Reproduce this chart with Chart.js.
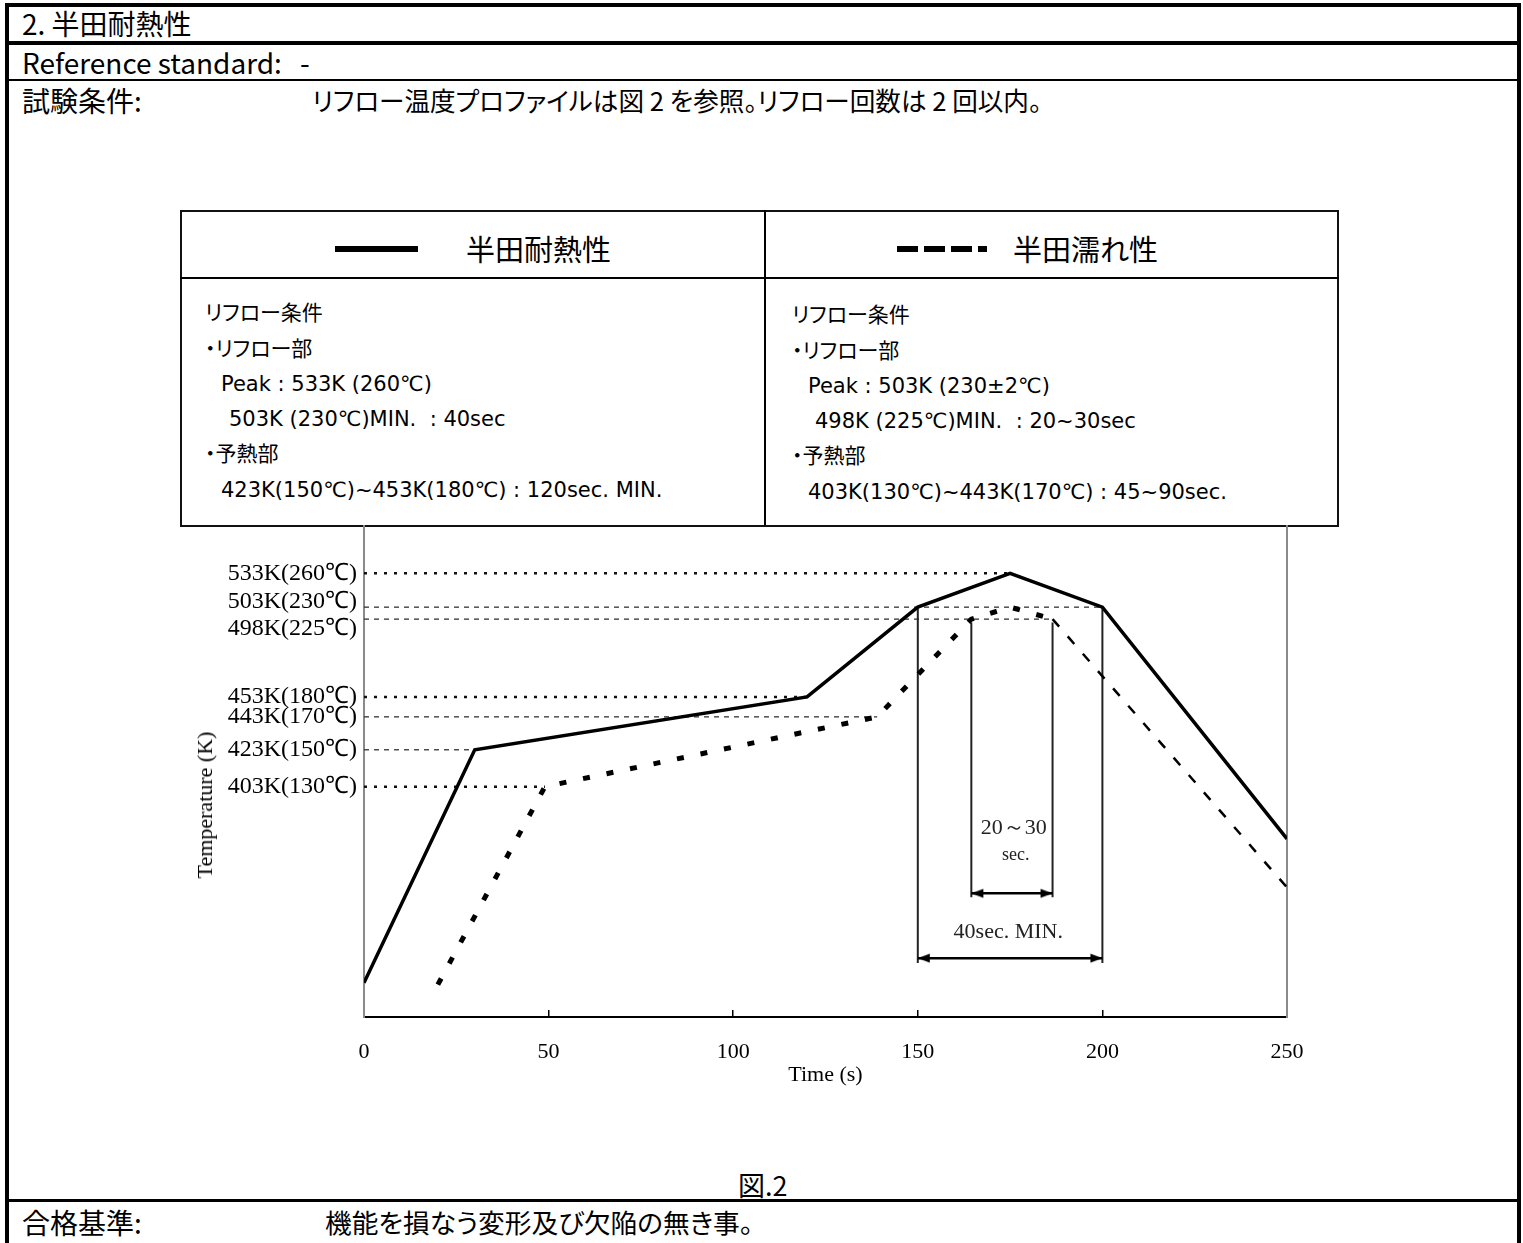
<!DOCTYPE html>
<html>
<head>
<meta charset="utf-8">
<script src="https://cdn.jsdelivr.net/npm/chart.js@4.4.1/dist/chart.umd.min.js"></script>
<style>
body { margin: 0; background: #fff; }
#page { position: relative; width: 1523px; height: 1243px; overflow: hidden; color: #000;
  font-family: "Noto Sans CJK JP", sans-serif; font-feature-settings: "palt"; }
.b { position: absolute; background: #000; }
.t { position: absolute; white-space: nowrap; line-height: 1; }
.p { font-size: 28px; }
.q { font-size: 25.6px; }
.h { font-size: 29px; }
.s { font-size: 21px; font-family: "DejaVu Sans", "Noto Sans CJK JP", sans-serif; }
#plot { position: absolute; left: 180px; top: 505px; width: 1160px; height: 600px; }
#ytitle { position: absolute; left: 205px; top: 805px; font: 22px "Liberation Serif", serif;
  white-space: nowrap; transform: translate(-50%, -50%) rotate(-90deg); }
</style>
</head>
<body>
<div id="page">
  <!-- frame -->
  <div class="b" style="left:5px;top:3px;width:4px;height:1240px"></div>
  <div class="b" style="left:1517px;top:3px;width:4px;height:1240px"></div>
  <div class="b" style="left:5px;top:3px;width:1516px;height:4px"></div>
  <div class="b" style="left:5px;top:41px;width:1516px;height:4px"></div>
  <div class="b" style="left:5px;top:79px;width:1516px;height:2px"></div>
  <div class="b" style="left:5px;top:1199px;width:1516px;height:3px"></div>

  <div class="t p" style="left:22px;top:9px">2. 半田耐熱性</div>
  <div class="t p" style="left:22px;top:48px">Reference standard:</div>
  <div class="t p" style="left:300px;top:48px">-</div>
  <div class="t p" style="left:22px;top:86px">試験条件:</div>
  <div class="t q" style="left:312px;top:87px">リフロー温度プロファイルは図 2 を参照。リフロー回数は 2 回以内。</div>
  <div class="t" style="left:738px;top:1171px;font-size:27px">図.2</div>
  <div class="t p" style="left:22px;top:1208px">合格基準:</div>
  <div class="t" style="left:325px;top:1209px;font-size:26.7px">機能を損なう変形及び欠陥の無き事。</div>

  <!-- legend table -->
  <div style="position:absolute;left:180px;top:210px;width:1155px;height:313px;border:2px solid #111"></div>
  <div class="b" style="left:180px;top:277px;width:1159px;height:2px"></div>
  <div class="b" style="left:764px;top:210px;width:2px;height:315px"></div>

  <div class="b" style="left:335px;top:246px;width:83px;height:6px"></div>
  <div class="t h" style="left:466px;top:234px">半田耐熱性</div>
  <div style="position:absolute;left:897px;top:246px;width:90px;height:6px;
    background:repeating-linear-gradient(to right,#000 0 21px,transparent 21px 27px)"></div>
  <div class="t h" style="left:1013px;top:234px">半田濡れ性</div>

  <div class="t s" style="left:205px;top:303px">リフロー条件</div>
  <div class="t s" style="left:205px;top:339px">・リフロー部</div>
  <div class="t s" style="left:221px;top:374px">Peak : 533K (260℃)</div>
  <div class="t s" style="left:229px;top:409px">503K (230℃)MIN.&nbsp; : 40sec</div>
  <div class="t s" style="left:205px;top:444px">・予熱部</div>
  <div class="t s" style="left:221px;top:480px">423K(150℃)~453K(180℃) : 120sec. MIN.</div>

  <div class="t s" style="left:792px;top:305px">リフロー条件</div>
  <div class="t s" style="left:792px;top:341px">・リフロー部</div>
  <div class="t s" style="left:808px;top:376px">Peak : 503K (230±2℃)</div>
  <div class="t s" style="left:815px;top:411px">498K (225℃)MIN.&nbsp; : 20~30sec</div>
  <div class="t s" style="left:792px;top:446px">・予熱部</div>
  <div class="t s" style="left:808px;top:482px">403K(130℃)~443K(170℃) : 45~90sec.</div>

  <div id="plot"><canvas id="chart" width="1160" height="600"></canvas></div>
  <div id="ytitle">Temperature (K)</div>
</div>

<script>
// 半田耐熱性 (solid)
const solidTime = [0, 30, 120, 150, 175, 200, 250];
const solidTemp = [294, 423, 453, 503, 533, 503, 374];
// 半田濡れ性 (dashed)
const wetTime = [20, 49, 139, 164.5, 175, 186.5, 250];
const wetTemp = [293, 403, 443, 498, 503, 498, 347];

const yTickValues = [403, 423, 443, 453, 498, 503, 533];
const yTickLabels = ['403K(130℃)', '423K(150℃)', '443K(170℃)', '453K(180℃)', '498K(225℃)', '503K(230℃)', '533K(260℃)'];

// dotted guide lines from the axis to the curve
const guideTemp = [533, 503, 498, 453, 443, 423, 403];
const guideEnd = [175, 200, 186.5, 120, 139, 30, 49];
const guideBold = [true, false, false, true, false, false, true];

// time windows: 40sec MIN and 20~30sec
const spanStart = [150, 164.5];
const spanEnd = [200, 186.5];
const spanTop = [503, 496];
const spanBottom = [305, 341.5];
const arrowTemp = [307.7, 343.7];

const noteText = ['20～30', 'sec.', '40sec. MIN.'];
const noteTime = [176, 176.5, 174.5];
const noteTemp = [380, 365, 322];
const noteSize = [22, 18, 22];

// the drawing is not to scale: fraction of axis height for each temperature
const yAxisKnots = [[275, 0], [403, 0.4695], [423, 0.5447], [443, 0.6118], [453, 0.6524],
  [498, 0.8110], [503, 0.8354], [533, 0.9045], [575, 1]];

function knotDec(v) {
  const k = yAxisKnots;
  if (v <= k[0][0]) return k[0][1] + (v - k[0][0]) * (k[1][1] - k[0][1]) / (k[1][0] - k[0][0]);
  for (let i = 1; i < k.length; i++) {
    if (v <= k[i][0]) return k[i - 1][1] + (v - k[i - 1][0]) * (k[i][1] - k[i - 1][1]) / (k[i][0] - k[i - 1][0]);
  }
  return 1;
}
function decKnot(d) {
  const k = yAxisKnots;
  for (let i = 1; i < k.length; i++) {
    if (d <= k[i][1]) return k[i - 1][0] + (d - k[i - 1][1]) * (k[i][0] - k[i - 1][0]) / (k[i][1] - k[i - 1][1]);
  }
  return k[k.length - 1][0];
}

class KnotScale extends Chart.LinearScale {
  getPixelForValue(value) {
    return value === null ? NaN : this.getPixelForDecimal(knotDec(value));
  }
  getValueForPixel(pixel) {
    return decKnot(this.getDecimalForPixel(pixel));
  }
}
KnotScale.id = 'knot';
KnotScale.defaults = Chart.LinearScale.defaults;
Chart.register(KnotScale);

function pts(xs, ys) {
  return xs.map((x, i) => ({ x: x, y: ys[i] }));
}

function arrowHead(dir) {
  const c = document.createElement('canvas');
  c.width = 30;
  c.height = 12;
  const g = c.getContext('2d');
  g.fillStyle = '#000';
  g.beginPath();
  g.moveTo(15, 6);
  g.lineTo(15 - dir * 12, 1.5);
  g.lineTo(15 - dir * 12, 10.5);
  g.closePath();
  g.fill();
  return c;
}
const headLeft = arrowHead(-1);
const headRight = arrowHead(1);

const datasets = [];
datasets.push({
  label: '半田耐熱性',
  data: pts(solidTime, solidTemp),
  borderColor: '#000',
  borderWidth: 3.5,
  pointRadius: 0,
  borderJoinStyle: 'miter',
  order: 0
});
datasets.push({
  label: '半田濡れ性',
  data: pts(wetTime, wetTemp),
  borderColor: '#000',
  pointRadius: 0,
  segment: {
    borderDash: c => c.p0DataIndex >= 5 ? [10, 13] : [7, 17],
    borderWidth: c => c.p0DataIndex >= 5 ? 2.5 : 5
  },
  order: 1
});
guideTemp.forEach((k, i) => {
  datasets.push({
    data: [{ x: 0, y: k }, { x: guideEnd[i], y: k }],
    borderColor: guideBold[i] ? '#111' : '#333',
    borderWidth: guideBold[i] ? 2.5 : 1.3,
    borderDash: guideBold[i] ? [3, 7] : [5, 5],
    pointRadius: 0,
    order: 5
  });
});
spanStart.forEach((t, i) => {
  [t, spanEnd[i]].forEach(x => {
    datasets.push({
      data: [{ x: x, y: spanTop[i] }, { x: x, y: spanBottom[i] }],
      borderColor: '#222',
      borderWidth: 2,
      pointRadius: 0,
      order: 4
    });
  });
  datasets.push({
    data: [{ x: t, y: arrowTemp[i] }, { x: spanEnd[i], y: arrowTemp[i] }],
    borderColor: '#000',
    borderWidth: 2.5,
    pointRadius: 6,
    pointStyle: c => c.dataIndex === 0 ? headLeft : headRight,
    order: 3
  });
});

const notePlugin = {
  id: 'notes',
  afterDatasetsDraw(chart) {
    const { ctx, scales } = chart;
    ctx.save();
    ctx.fillStyle = '#222';
    ctx.textAlign = 'center';
    ctx.textBaseline = 'middle';
    noteText.forEach((txt, i) => {
      ctx.font = noteSize[i] + 'px "Liberation Serif", serif';
      ctx.fillText(txt, scales.x.getPixelForValue(noteTime[i]), scales.y.getPixelForValue(noteTemp[i]));
    });
    ctx.restore();
  }
};

// 503K and 498K labels sit very close: push one up and one down
const yLabelShift = { 503: -5, 498: 10 };

Chart.defaults.font.family = '"Liberation Serif", serif';
Chart.defaults.color = '#000';

new Chart(document.getElementById('chart'), {
  type: 'line',
  data: { datasets: datasets },
  plugins: [notePlugin],
  options: {
    responsive: false,
    animation: false,
    layout: { padding: { top: 20, right: 53, left: 0, bottom: 0 } },
    plugins: { legend: { display: false }, tooltip: { enabled: false } },
    scales: {
      x: {
        type: 'linear',
        min: 0,
        max: 250,
        ticks: { stepSize: 50, padding: 29, font: { size: 22 }, color: '#000' },
        grid: { drawOnChartArea: false, drawTicks: true, tickLength: -7, color: '#000', lineWidth: 1.5 },
        border: { color: '#000', width: 2 },
        title: { display: true, text: 'Time (s)', font: { size: 22 }, padding: { top: 0, bottom: 17 } },
        afterFit: s => { s.height = 88; }
      },
      y: {
        type: 'knot',
        min: 275,
        max: 575,
        afterBuildTicks: s => { s.ticks = yTickValues.map(v => ({ value: v })); },
        ticks: {
          padding: 7,
          color: '#000',
          font: c => {
            const sh = c.tick ? yLabelShift[c.tick.value] : undefined;
            return { size: 24, lineHeight: sh ? Math.abs(sh) * 2 + 'px' : 1.2 };
          },
          callback: (v, i) => {
            const sh = yLabelShift[yTickValues[i]];
            if (!sh) return yTickLabels[i];
            return sh < 0 ? [yTickLabels[i], ''] : ['', yTickLabels[i]];
          }
        },
        grid: { display: false, drawTicks: false },
        border: { color: '#8a8a8a', width: 2 },
        afterFit: s => { s.width = 184; }
      },
      yRight: {
        type: 'linear',
        position: 'right',
        min: 0,
        max: 1,
        ticks: { display: false },
        grid: { display: false, drawTicks: false },
        border: { color: '#8a8a8a', width: 2 },
        afterFit: s => { s.width = 0; }
      }
    }
  }
});
</script>
</body>
</html>
